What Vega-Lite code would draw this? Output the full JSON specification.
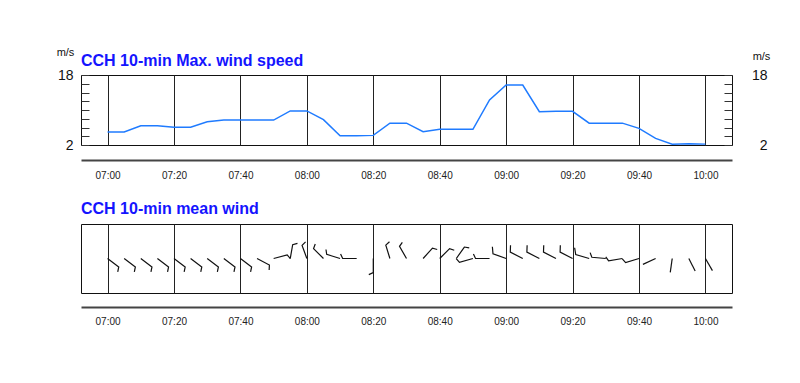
{
  "$schema": "https://vega.github.io/schema/vega-lite/v6.json",
  "background": "white",
  "padding": {"left": 55, "top": 45, "right": 5, "bottom": 5},
  "config": {"view": {"stroke": "#111", "strokeWidth": 1}, "font": "Liberation Sans"},
  "spacing": 19,
  "vconcat": [
    {
      "title": {"text": "CCH 10-min Max. wind speed", "anchor": "start", "frame": "group", "color": "#1414ff", "fontSize": 16, "fontWeight": "bold", "font": "Liberation Sans", "offset": -23},
      "width": 651,
      "height": 70,
      "data": {"values": [
        {"t": "2024-01-01T07:00", "speed": 5.0},
        {"t": "2024-01-01T07:05", "speed": 5.0},
        {"t": "2024-01-01T07:10", "speed": 6.4},
        {"t": "2024-01-01T07:15", "speed": 6.4},
        {"t": "2024-01-01T07:20", "speed": 6.05},
        {"t": "2024-01-01T07:25", "speed": 6.05},
        {"t": "2024-01-01T07:30", "speed": 7.3},
        {"t": "2024-01-01T07:35", "speed": 7.7},
        {"t": "2024-01-01T07:40", "speed": 7.7},
        {"t": "2024-01-01T07:45", "speed": 7.7},
        {"t": "2024-01-01T07:50", "speed": 7.7},
        {"t": "2024-01-01T07:55", "speed": 9.8},
        {"t": "2024-01-01T08:00", "speed": 9.8},
        {"t": "2024-01-01T08:05", "speed": 7.8},
        {"t": "2024-01-01T08:10", "speed": 4.1},
        {"t": "2024-01-01T08:15", "speed": 4.1},
        {"t": "2024-01-01T08:20", "speed": 4.2},
        {"t": "2024-01-01T08:25", "speed": 7.0},
        {"t": "2024-01-01T08:30", "speed": 7.0},
        {"t": "2024-01-01T08:35", "speed": 5.05},
        {"t": "2024-01-01T08:40", "speed": 5.6},
        {"t": "2024-01-01T08:45", "speed": 5.6},
        {"t": "2024-01-01T08:50", "speed": 5.6},
        {"t": "2024-01-01T08:55", "speed": 12.3},
        {"t": "2024-01-01T09:00", "speed": 15.7},
        {"t": "2024-01-01T09:05", "speed": 15.7},
        {"t": "2024-01-01T09:10", "speed": 9.6},
        {"t": "2024-01-01T09:15", "speed": 9.7},
        {"t": "2024-01-01T09:20", "speed": 9.7},
        {"t": "2024-01-01T09:25", "speed": 7.0},
        {"t": "2024-01-01T09:30", "speed": 7.0},
        {"t": "2024-01-01T09:35", "speed": 7.0},
        {"t": "2024-01-01T09:40", "speed": 5.8},
        {"t": "2024-01-01T09:45", "speed": 3.5},
        {"t": "2024-01-01T09:50", "speed": 2.2},
        {"t": "2024-01-01T09:55", "speed": 2.3},
        {"t": "2024-01-01T10:00", "speed": 2.2}
      ]},
      "layer": [
        {
          "mark": {"type": "line", "color": "#1f7bff", "strokeWidth": 1.5},
          "encoding": {
            "x": {"field": "t", "type": "temporal",
              "scale": {"domain": [{"year": 2024, "month": 1, "date": 1, "hours": 6, "minutes": 52}, {"year": 2024, "month": 1, "date": 1, "hours": 10, "minutes": 8}]},
              "axis": {"title": null, "orient": "bottom", "offset": 15,
                "values": [{"year": 2024, "month": 1, "date": 1, "hours": 7, "minutes": 0}, {"year": 2024, "month": 1, "date": 1, "hours": 7, "minutes": 20}, {"year": 2024, "month": 1, "date": 1, "hours": 7, "minutes": 40}, {"year": 2024, "month": 1, "date": 1, "hours": 8, "minutes": 0}, {"year": 2024, "month": 1, "date": 1, "hours": 8, "minutes": 20}, {"year": 2024, "month": 1, "date": 1, "hours": 8, "minutes": 40}, {"year": 2024, "month": 1, "date": 1, "hours": 9, "minutes": 0}, {"year": 2024, "month": 1, "date": 1, "hours": 9, "minutes": 20}, {"year": 2024, "month": 1, "date": 1, "hours": 9, "minutes": 40}, {"year": 2024, "month": 1, "date": 1, "hours": 10, "minutes": 0}],
                "format": "%H:%M", "grid": true, "gridColor": "#222", "gridOpacity": 1, "gridWidth": 1, "ticks": false, "domain": true, "domainColor": "#444", "domainWidth": 2, "labelFont": "Liberation Sans", "labelFontSize": 10, "labelColor": "#222", "labelPadding": 10}},
            "y": {"field": "speed", "type": "quantitative",
              "scale": {"domain": [2, 18], "nice": false, "zero": false},
              "axis": {"orient": "left", "values": [2, 4, 6, 8, 10, 12, 14, 16, 18], "labelExpr": "datum.value == 2 || datum.value == 18 ? datum.label : ''", "grid": false, "domain": false, "ticks": true, "tickSize": -8, "tickColor": "#333", "labelFontSize": 14, "labelColor": "#111", "labelPadding": 16, "labelFlush": false, "labelOverlap": false, "title": "m/s", "titleAngle": 0, "titleFontSize": 11, "titleFontWeight": "normal", "titleColor": "#111", "titleX": -16, "titleY": -20, "titleAlign": "center", "titleBaseline": "alphabetic"}}
          }
        },
        {
          "mark": {"type": "line", "opacity": 0},
          "encoding": {
            "y": {"field": "speed", "type": "quantitative",
              "axis": {"orient": "right", "values": [2, 4, 6, 8, 10, 12, 14, 16, 18], "labelExpr": "datum.value == 2 || datum.value == 18 ? datum.label : ''", "grid": false, "domain": false, "ticks": true, "tickSize": -8, "tickColor": "#333", "labelFontSize": 14, "labelColor": "#111", "labelAlign": "right", "labelPadding": 43, "labelFlush": false, "labelOverlap": false, "title": "m/s", "titleAngle": 0, "titleFontSize": 11, "titleFontWeight": "normal", "titleColor": "#111", "titleX": 29, "titleY": -16, "titleAlign": "center", "titleBaseline": "alphabetic"}}
          }
        }
      ]
    },
    {
      "title": {"text": "CCH 10-min mean wind", "anchor": "start", "frame": "group", "color": "#1414ff", "fontSize": 16, "fontWeight": "bold", "font": "Liberation Sans", "offset": 7},
      "width": 651,
      "height": 69,
      "data": {"values": [
        {"t": "2024-01-01T07:00", "dir": 127, "barb": "half"},
        {"t": "2024-01-01T07:05", "dir": 127, "barb": "half"},
        {"t": "2024-01-01T07:10", "dir": 127, "barb": "half"},
        {"t": "2024-01-01T07:15", "dir": 127, "barb": "half"},
        {"t": "2024-01-01T07:20", "dir": 127, "barb": "half"},
        {"t": "2024-01-01T07:25", "dir": 127, "barb": "half"},
        {"t": "2024-01-01T07:30", "dir": 127, "barb": "half"},
        {"t": "2024-01-01T07:35", "dir": 127, "barb": "half"},
        {"t": "2024-01-01T07:40", "dir": 127, "barb": "half"},
        {"t": "2024-01-01T07:45", "dir": 118, "barb": "half"},
        {"t": "2024-01-01T07:50", "dir": 75, "barb": "half"},
        {"t": "2024-01-01T07:55", "dir": 10, "barb": "half"},
        {"t": "2024-01-01T08:00", "dir": 340, "barb": "half"},
        {"t": "2024-01-01T08:05", "dir": 315, "barb": "half"},
        {"t": "2024-01-01T08:10", "dir": 287, "barb": "half"},
        {"t": "2024-01-01T08:15", "dir": 270, "barb": "half"},
        {"t": "2024-01-01T08:20", "dir": 180, "barb": "half"},
        {"t": "2024-01-01T08:25", "dir": 343, "barb": "half"},
        {"t": "2024-01-01T08:30", "dir": 330, "barb": "half"},
        {"t": "2024-01-01T08:35", "dir": 42, "barb": "half"},
        {"t": "2024-01-01T08:40", "dir": 45, "barb": "half"},
        {"t": "2024-01-01T08:45", "dir": 35, "barb": "half"},
        {"t": "2024-01-01T08:50", "dir": 254, "barb": "half"},
        {"t": "2024-01-01T08:55", "dir": 270, "barb": "half"},
        {"t": "2024-01-01T09:00", "dir": 290, "barb": "full"},
        {"t": "2024-01-01T09:05", "dir": 297, "barb": "full"},
        {"t": "2024-01-01T09:10", "dir": 297, "barb": "full"},
        {"t": "2024-01-01T09:15", "dir": 297, "barb": "full"},
        {"t": "2024-01-01T09:20", "dir": 297, "barb": "full"},
        {"t": "2024-01-01T09:25", "dir": 286, "barb": "full"},
        {"t": "2024-01-01T09:30", "dir": 275, "barb": "half"},
        {"t": "2024-01-01T09:35", "dir": 260, "barb": "half"},
        {"t": "2024-01-01T09:40", "dir": 253, "barb": "half"},
        {"t": "2024-01-01T09:45", "dir": 245, "barb": "none"},
        {"t": "2024-01-01T09:50", "dir": 188, "barb": "none"},
        {"t": "2024-01-01T09:55", "dir": 153, "barb": "none"},
        {"t": "2024-01-01T10:00", "dir": 150, "barb": "none"}
      ]},
      "mark": {"type": "point", "filled": false, "stroke": "#111", "strokeWidth": 1.2, "size": 784, "opacity": 1},
      "encoding": {
        "x": {"field": "t", "type": "temporal",
          "scale": {"domain": [{"year": 2024, "month": 1, "date": 1, "hours": 6, "minutes": 52}, {"year": 2024, "month": 1, "date": 1, "hours": 10, "minutes": 8}]},
          "axis": {"title": null, "orient": "bottom", "offset": 14,
            "values": [{"year": 2024, "month": 1, "date": 1, "hours": 7, "minutes": 0}, {"year": 2024, "month": 1, "date": 1, "hours": 7, "minutes": 20}, {"year": 2024, "month": 1, "date": 1, "hours": 7, "minutes": 40}, {"year": 2024, "month": 1, "date": 1, "hours": 8, "minutes": 0}, {"year": 2024, "month": 1, "date": 1, "hours": 8, "minutes": 20}, {"year": 2024, "month": 1, "date": 1, "hours": 8, "minutes": 40}, {"year": 2024, "month": 1, "date": 1, "hours": 9, "minutes": 0}, {"year": 2024, "month": 1, "date": 1, "hours": 9, "minutes": 20}, {"year": 2024, "month": 1, "date": 1, "hours": 9, "minutes": 40}, {"year": 2024, "month": 1, "date": 1, "hours": 10, "minutes": 0}],
            "format": "%H:%M", "grid": true, "gridColor": "#222", "gridOpacity": 1, "gridWidth": 1, "ticks": false, "domain": true, "domainColor": "#444", "domainWidth": 2, "labelFont": "Liberation Sans", "labelFontSize": 10, "labelColor": "#222", "labelPadding": 9}},
        "angle": {"field": "dir", "type": "quantitative", "scale": {"domain": [0, 360], "range": [0, 360]}},
        "shape": {"field": "barb", "type": "nominal",
          "scale": {"domain": ["none", "half", "full"], "range": ["M0,0L0,-1", "M0,0L0,-1L0.32,-1.15", "M0,0L0,-1L0.45,-1.21"]},
          "legend": null}
      }
    }
  ]
}
